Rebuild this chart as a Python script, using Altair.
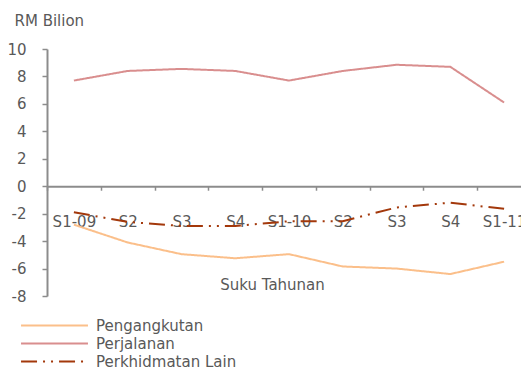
import altair as alt
import pandas as pd

# Quarterly services balance, RM billion
quarters = ["S1-09", "S2", "S3", "S4", "S1-10", "S2 ", "S3 ", "S4 ", "S1-11"]
pengangkutan = [-2.8, -4.1, -4.95, -5.25, -4.95, -5.85, -6.0, -6.4, -5.5]
perjalanan = [7.7, 8.4, 8.55, 8.4, 7.7, 8.4, 8.85, 8.7, 6.1]
perkhidmatan_lain = [-1.9, -2.6, -2.9, -2.9, -2.55, -2.55, -1.55, -1.2, -1.65]

series_names = ["Pengangkutan", "Perjalanan", "Perkhidmatan Lain"]
series_colors = ["#FBBF8A", "#D98E8E", "#A3380B"]
series_dashes = [[1, 0], [1, 0], [16, 6, 2, 6, 2, 6]]

rows = []
for name, values in zip(series_names, [pengangkutan, perjalanan, perkhidmatan_lain]):
    for q, v in zip(quarters, values):
        rows.append({"Suku": q, "Nilai": v, "Siri": name})
df = pd.DataFrame(rows)

FONT = "DejaVu Sans"
TEXT = "#595959"
AXIS = "#8C8C8C"

W, H = 474, 247
Y_MIN, Y_MAX = -8, 10
zero_from_bottom = H * (0 - Y_MIN) / (Y_MAX - Y_MIN)

x = alt.X(
    "Suku:O",
    sort=quarters,
    scale=alt.Scale(range=[0, 484], paddingInner=0, paddingOuter=0),
    axis=alt.Axis(
        orient="bottom",
        offset=-zero_from_bottom,
        title="Suku Tahunan",
        titleFont=FONT,
        titleFontSize=15,
        titleFontWeight="normal",
        titleColor=TEXT,
        titleX=225,
        titleY=98,
        titleAlign="center",
        titleBaseline="middle",
        labelExpr="isValid(datum.value) ? trim(datum.value) : ''",
        labelFont=FONT,
        labelFontSize=15,
        labelColor=TEXT,
        labelAngle=0,
        labelPadding=24,
        tickBand="extent",
        tickSize=4,
        tickColor=AXIS,
        tickWidth=1.5,
        domainColor=AXIS,
        domainWidth=2,
        grid=False,
    ),
)

y = alt.Y(
    "Nilai:Q",
    scale=alt.Scale(domain=[Y_MIN, Y_MAX], nice=False),
    axis=alt.Axis(
        values=list(range(-8, 11, 2)),
        labelExpr="toString(datum.value)",
        title="RM Bilion",
        titleFont=FONT,
        titleFontSize=15,
        titleFontWeight="normal",
        titleColor=TEXT,
        titleAngle=0,
        titleAlign="left",
        titleBaseline="middle",
        titleX=-33,
        titleY=-29,
        labelFont=FONT,
        labelFontSize=15,
        labelColor=TEXT,
        labelPadding=16,
        tickSize=5,
        tickColor=AXIS,
        tickWidth=1.5,
        domainColor=AXIS,
        domainWidth=2,
        grid=False,
    ),
)

legend = alt.Legend(
    title=None,
    orient="none",
    legendX=-2,
    legendY=267,
    symbolType="M-4,0H4",
    symbolSize=280,
    symbolStrokeWidth=2,
    labelFont=FONT,
    labelFontSize=15,
    labelColor=TEXT,
    labelOffset=32,
    rowPadding=0,
)

chart = (
    alt.Chart(df)
    .mark_line(strokeWidth=2)
    .encode(
        x=x,
        y=y,
        color=alt.Color(
            "Siri:N",
            scale=alt.Scale(domain=series_names, range=series_colors),
            legend=legend,
        ),
        strokeDash=alt.StrokeDash(
            "Siri:N",
            scale=alt.Scale(domain=series_names, range=series_dashes),
            legend=legend,
        ),
    )
    .properties(
        width=W,
        height=H,
        autosize=alt.AutoSizeParams(type="none"),
        padding={"left": 47, "top": 49, "right": 0, "bottom": 75},
    )
    .configure_view(stroke=None)
)

chart.save("out.html", embed_options={"renderer": "svg", "actions": False})
